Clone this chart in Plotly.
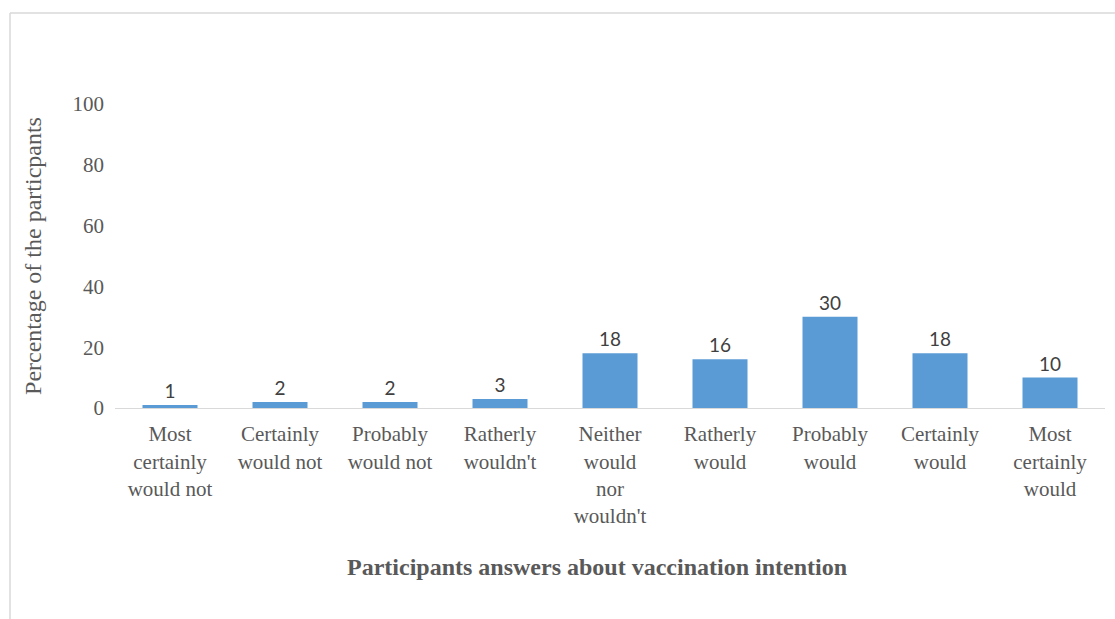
import plotly.graph_objects as go

categories = ["Most<br>certainly<br>would not", "Certainly<br>would not", "Probably<br>would not",
              "Ratherly<br>wouldn't", "Neither<br>would<br>nor<br>wouldn't", "Ratherly<br>would",
              "Probably<br>would", "Certainly<br>would", "Most<br>certainly<br>would"]
values = [1, 2, 2, 3, 18, 16, 30, 18, 10]
y_ticks = [0, 20, 40, 60, 80, 100]

W, H = 1115, 619
L, R, T, B = 115, 10, 104, 211
pw, ph = W - L - R, H - T - B

def px_x(p):
    return (p - L) / pw

def px_y(p):
    return (H - B - p) / ph

fig = go.Figure(go.Bar(
    x=categories, y=values,
    marker=dict(color="#5b9bd5", line=dict(width=0)),
    width=0.5,
    text=[str(v) for v in values], textposition="outside",
    textfont=dict(family="Lato, Liberation Sans", size=19, color="#404040"),
    cliponaxis=False,
))

fig.update_layout(
    width=W, height=H, margin=dict(l=L, r=R, t=T, b=B),
    paper_bgcolor="white", plot_bgcolor="white",
    showlegend=False,
    font=dict(family="Liberation Serif", color="#595959", size=21),
    xaxis=dict(showline=True, linecolor="#d9d9d9", linewidth=1, ticks="",
               tickfont=dict(family="Liberation Serif", size=21, color="#595959"),
               ticklabelstandoff=7,
               showgrid=False, fixedrange=True),
    yaxis=dict(range=[0, 100], tickvals=y_ticks, showgrid=False, zeroline=False,
               showline=False, ticks="", ticklabelstandoff=10,
               tickfont=dict(family="Liberation Serif", size=21, color="#595959"),
               title=dict(text="Percentage of the particpants",
                          font=dict(family="Liberation Serif", size=24, color="#595959"),
                          standoff=24)),
    annotations=[dict(text="<b>Participants answers about vaccination intention</b>",
                      xref="paper", yref="paper", x=px_x(597), y=px_y(567),
                      xanchor="center", yanchor="middle", showarrow=False,
                      font=dict(family="Liberation Serif", size=24, color="#595959"))],
    shapes=[
        dict(type="line", xref="paper", yref="paper", x0=px_x(10), x1=px_x(1115),
             y0=px_y(13), y1=px_y(13), line=dict(color="#d9d9d9", width=1.5)),
        dict(type="line", xref="paper", yref="paper", x0=px_x(10), x1=px_x(10),
             y0=px_y(13), y1=px_y(619), line=dict(color="#d9d9d9", width=1.5)),
    ],
)

fig.write_html("out.html")
